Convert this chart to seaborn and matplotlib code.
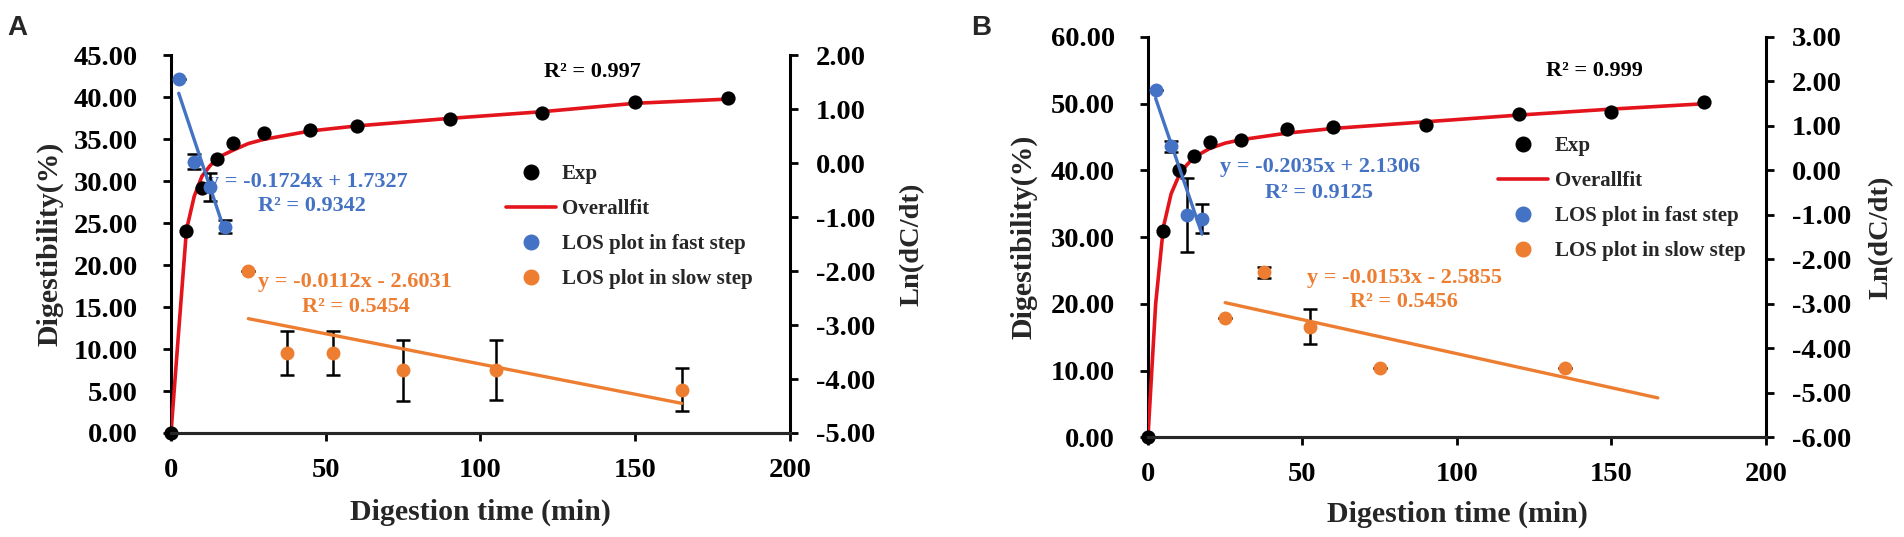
import matplotlib
matplotlib.use("Agg")
import matplotlib.pyplot as plt
from matplotlib.lines import Line2D
from matplotlib.ticker import FormatStrFormatter, MultipleLocator
import seaborn as sns

# --- 数据 ---
# 左轴: 消化率 (%)
exp_time = [0, 5, 10, 15, 20, 30, 45, 60, 90, 120, 150, 180]
exp_a = [0, 24.1, 29.2, 32.7, 34.6, 35.7, 36.1, 36.6, 37.4, 38.2, 39.5, 39.9]
exp_b = [0, 31.0, 40.0, 42.2, 44.2, 44.6, 46.2, 46.5, 46.8, 48.4, 48.8, 50.2]

fit_time = [0, 2.5, 5, 7.5, 10, 12.5, 15, 20, 25, 30, 45, 60, 90, 120, 150, 180]
fit_a = [0, 12.2, 24.2, 28.2, 30.6, 31.8, 32.8, 33.7, 34.5, 35.0, 36.0, 36.6, 37.5, 38.3, 39.3, 39.8]
fit_b = [0, 20.0, 31.5, 36.5, 39.2, 40.8, 42.0, 43.3, 44.1, 44.6, 45.6, 46.3, 47.3, 48.3, 49.2, 50.0]

# 右轴: Ln(dC/dt)
fast_time = [2.5, 7.5, 12.5, 17.5]
fast_a = [1.56, 0.03, -0.43, -1.18]
fast_err_a = [0, 0.14, 0.26, 0.12]
fast_b = [1.81, 0.54, -1.00, -1.08]
fast_err_b = [0, 0.13, 0.83, 0.33]

slow_time_a = [25, 37.5, 52.5, 75, 105, 165]
slow_a = [-1.99, -3.52, -3.52, -3.84, -3.83, -4.20]
slow_err_a = [0, 0.41, 0.41, 0.57, 0.55, 0.40]
slow_time_b = [25, 37.5, 52.5, 75, 135]
slow_b = [-3.32, -2.29, -3.51, -4.43, -4.44]
slow_err_b = [0, 0.12, 0.39, 0, 0]

# 线性趋势线端点
fast_line_time = [2.5, 17.5]
fast_line_a = [1.30, -1.28]
fast_line_b = [1.62, -1.43]
slow_line_time = [25, 165]
slow_line_a = [-2.88, -4.45]
slow_line_b = [-2.97, -5.11]

BLACK = "black"
RED = "#E3141C"
BLUE = "#4472C4"
ORANGE = "#ED7D31"

sns.set_theme(style="ticks")
plt.rcParams["font.family"] = ["Liberation Serif", "DejaVu Serif"]
plt.rcParams["font.weight"] = "bold"
plt.rcParams["axes.linewidth"] = 2.2

fig = plt.figure(figsize=(19.04, 5.37), dpi=100)


def draw_panel(rect, exp_y, fit_y, fast_y, fast_err, slow_t, slow_y, slow_err,
               fast_line, slow_line, ylim_left, step_left, ylim_right, texts, legend_pos):
    ax = fig.add_axes(rect)
    ax2 = ax.twinx()

    # 左轴: 实验点 + 总体拟合
    sns.lineplot(x=fit_time, y=fit_y, ax=ax, color=RED, lw=2.6, zorder=3)
    sns.scatterplot(x=exp_time, y=exp_y, ax=ax, color=BLACK, s=105,
                    linewidth=0, zorder=4, clip_on=False)

    # 右轴: LOS 快慢两段
    ax2.errorbar(fast_time, fast_y, yerr=fast_err, fmt="none", ecolor=BLACK,
                 elinewidth=1.8, capsize=5, capthick=1.8, zorder=2)
    ax2.errorbar(slow_t, slow_y, yerr=slow_err, fmt="none", ecolor=BLACK,
                 elinewidth=1.8, capsize=5, capthick=1.8, zorder=2)
    sns.lineplot(x=fast_line_time, y=fast_line, ax=ax2, color=BLUE, lw=2.4, zorder=3)
    sns.lineplot(x=slow_line_time, y=slow_line, ax=ax2, color=ORANGE, lw=2.4, zorder=3)
    sns.scatterplot(x=fast_time, y=fast_y, ax=ax2, color=BLUE, s=100, linewidth=0, zorder=4)
    sns.scatterplot(x=slow_t, y=slow_y, ax=ax2, color=ORANGE, s=100, linewidth=0, zorder=4)

    ax.set_xlim(0, 200)
    ax.xaxis.set_major_locator(MultipleLocator(50))
    ax.set_ylim(*ylim_left)
    ax.yaxis.set_major_locator(MultipleLocator(step_left))
    ax2.set_ylim(*ylim_right)
    ax2.yaxis.set_major_locator(MultipleLocator(1))
    ax.yaxis.set_major_formatter(FormatStrFormatter("%.2f"))
    ax2.yaxis.set_major_formatter(FormatStrFormatter("%.2f"))

    for a in (ax, ax2):
        a.spines["top"].set_visible(False)
        a.set_xlabel("")
        a.set_ylabel("")
    ax.spines["right"].set_visible(False)
    ax2.spines["left"].set_visible(False)
    for sp in ("left", "bottom"):
        ax.spines[sp].set_color(BLACK)
    ax2.spines["right"].set_color(BLACK)

    ax.tick_params(axis="y", direction="out", length=5.8, width=2, labelsize=20.5,
                   pad=18, colors=BLACK)
    ax.tick_params(axis="x", direction="out", length=5.8, width=2, labelsize=20.5,
                   pad=12, colors=BLACK)
    ax2.tick_params(axis="y", direction="out", length=5.8, width=2, labelsize=20.5,
                    pad=13, colors=BLACK)

    # 轴标题
    ax.text(0.5, texts["xlab_y"], "Digestion time (min)", transform=ax.transAxes,
            ha="center", va="center", fontsize=21.5, fontweight="bold")
    ax.text(texts["ylab_x"], 0.5, "Digestibility(%)", transform=ax.transAxes,
            ha="center", va="center", rotation=90, fontsize=21.5, fontweight="bold")
    ax.text(texts["rlab_x"], 0.5, "Ln(dC/dt)", transform=ax.transAxes,
            ha="center", va="center", rotation=90, fontsize=20.5, fontweight="bold")

    # 方程与 R²
    for (x, y, s, c) in texts["notes"]:
        ax.text(x, y, s, color=c, ha="center", va="center", fontsize=16,
                fontweight="bold", zorder=1)

    for a in (ax, ax2):
        if a.get_legend() is not None:
            a.get_legend().remove()

    handles = [
        Line2D([], [], marker="o", ls="none", color=BLACK, markersize=10.5),
        Line2D([], [], color=RED, lw=2.6),
        Line2D([], [], marker="o", ls="none", color=BLUE, markersize=10.5),
        Line2D([], [], marker="o", ls="none", color=ORANGE, markersize=10.5),
    ]
    labels = ["Exp", "Overallfit", "LOS plot in fast step", "LOS plot in slow step"]
    ax2.legend(handles, labels, loc="upper left", bbox_to_anchor=legend_pos,
               frameon=False, fontsize=15, handlelength=2.4, handletextpad=0.3,
               labelspacing=0.72, borderpad=0, borderaxespad=0)
    return ax, ax2


# --- 图 A ---
draw_panel(
    [0.0898, 0.1937, 0.3251, 0.7030], exp_a, fit_a, fast_a, fast_err_a,
    slow_time_a, slow_a, slow_err_a, fast_line_a, slow_line_a,
    (0, 45), 5, (-5, 2),
    {"xlab_y": -0.209, "ylab_x": -0.1955, "rlab_x": 1.1966,
     "notes": [(136.3, 43.0, "R² = 0.997", BLACK),
               (44.1, 29.9, "y = -0.1724x + 1.7327", BLUE),
               (45.5, 27.0, "R² = 0.9342", BLUE),
               (59.5, 18.0, "y = -0.0112x - 2.6031", ORANGE),
               (59.7, 15.06, "R² = 0.5454", ORANGE)]},
    (0.541, 0.713),
)

# --- 图 B ---
draw_panel(
    [0.6029, 0.1853, 0.3246, 0.7458], exp_b, fit_b, fast_b, fast_err_b,
    slow_time_b, slow_b, slow_err_b, fast_line_b, slow_line_b,
    (0, 60), 10, (-6, 3),
    {"xlab_y": -0.191, "ylab_x": -0.200, "rlab_x": 1.187,
     "notes": [(144.5, 54.9, "R² = 0.999", BLACK),
               (55.6, 40.5, "y = -0.2035x + 2.1306", BLUE),
               (55.2, 36.7, "R² = 0.9125", BLUE),
               (83.0, 23.9, "y = -0.0153x - 2.5855", ORANGE),
               (82.9, 20.3, "R² = 0.5456", ORANGE)]},
    (0.567, 0.752),
)

fig.text(0.0037, 0.972, "A", ha="left", va="top", fontsize=20,
         fontweight="bold", family=["Liberation Sans", "DejaVu Sans"])
fig.text(0.5103, 0.972, "B", ha="left", va="top", fontsize=20,
         fontweight="bold", family=["Liberation Sans", "DejaVu Sans"])

fig.savefig("out.png", dpi=100)
